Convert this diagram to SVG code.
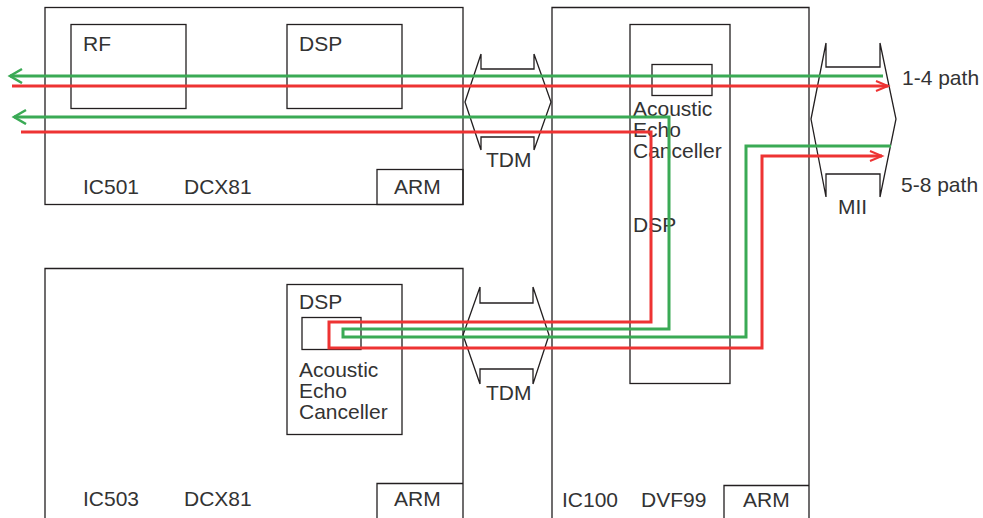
<svg xmlns="http://www.w3.org/2000/svg" width="983" height="518" viewBox="0 0 983 518">
<defs>
<style>
.box{fill:none;stroke:#231f20;stroke-width:1.3}
.lnk{fill:none;stroke:#231f20;stroke-width:1.3}
.t{font-family:"Liberation Sans",Arial,sans-serif;font-size:21px;fill:#333}
.g{fill:none;stroke:#3aaa55;stroke-width:3}
.r{fill:none;stroke:#ee3333;stroke-width:3}
</style>
<marker id="ag" markerUnits="userSpaceOnUse" markerWidth="16" markerHeight="18" refX="13" refY="8" orient="auto">
<path d="M1,1 L13,8 L1,15" fill="none" stroke="#3aaa55" stroke-width="2.5"/>
</marker>
<marker id="ar" markerUnits="userSpaceOnUse" markerWidth="16" markerHeight="14" refX="13" refY="6" orient="auto">
<path d="M1,1 L13,6 L1,11" fill="none" stroke="#ee3333" stroke-width="2"/>
</marker>
</defs>
<rect width="983" height="518" fill="#fff"/>

<g id="ic501">
<rect class="box" x="45" y="7.5" width="418" height="197"/>
<text class="t" x="83" y="194">IC501</text>
<text class="t" x="184" y="194">DCX81</text>
</g>
<g id="rf">
<rect class="box" x="71" y="24.5" width="115" height="84"/>
<text class="t" x="83" y="51">RF</text>
</g>
<g id="dsp501">
<rect class="box" x="287" y="24.5" width="115" height="84"/>
<text class="t" x="299" y="51">DSP</text>
</g>
<g id="arm501">
<rect class="box" x="377" y="169.5" width="86" height="35"/>
<text class="t" x="394" y="194">ARM</text>
</g>

<g id="ic503">
<path class="box" d="M45,518 V268.5 H463 V518"/>
<text class="t" x="83" y="506">IC503</text>
<text class="t" x="184" y="506">DCX81</text>
</g>
<g id="dsp503">
<rect class="box" x="287" y="284.5" width="115" height="150"/>
<text class="t" x="299" y="309">DSP</text>
<text class="t" x="299" y="377">Acoustic</text>
<text class="t" x="299" y="398">Echo</text>
<text class="t" x="299" y="419">Canceller</text>
</g>
<g id="aec503">
<rect class="box" x="302" y="317.5" width="59" height="32"/>
</g>
<g id="arm503">
<path class="box" d="M377,518 V483.5 H463"/>
<text class="t" x="394" y="506">ARM</text>
</g>

<g id="ic100">
<path class="box" d="M552,518 V7.5 H809 V518"/>
<text class="t" x="562" y="507">IC100</text>
<text class="t" x="641" y="507">DVF99</text>
</g>
<g id="dsp100">
<rect class="box" x="630" y="24.5" width="100" height="359"/>
<text class="t" x="633" y="232">DSP</text>
</g>
<g id="aec100">
<rect class="box" x="652" y="64.5" width="60" height="31"/>
<text class="t" x="633" y="116">Acoustic</text>
<text class="t" x="633" y="137">Echo</text>
<text class="t" x="633" y="158">Canceller</text>
</g>
<g id="arm100">
<path class="box" d="M724,518 V485.5 H809"/>
<text class="t" x="743" y="507">ARM</text>
</g>

<g id="tdm1">
<path class="lnk" d="M481,54 L465,102 L481,150 M534,54 L551,102 L534,150 M481,54 V69 H534 V54 M481,150 V137 H534 V150"/>
<text class="t" x="486" y="167">TDM</text>
</g>
<g id="tdm2">
<path class="lnk" d="M480,287 L463,335 L480,384 M533,287 L549,335 L533,384 M480,287 V303 H533 V287 M480,384 V369 H533 V384"/>
<text class="t" x="486" y="400">TDM</text>
</g>
<g id="mii">
<path class="lnk" d="M826,43 L811,119 L826,197 M880,43 L896,119 L880,197 M826,43 V67 H880 V43 M826,197 V174 H880 V197"/>
<text class="t" x="838" y="214">MII</text>
</g>
<g id="labels">
<text class="t" x="902" y="85">1-4 path</text>
<text class="t" x="901" y="192">5-8 path</text>
</g>

<g id="connectors">
<path class="g" d="M883,76 H10" marker-end="url(#ag)"/>
<path class="r" d="M12,86 H888" marker-end="url(#ar)"/>
<path class="g" d="M891,146 H746 V337 H343 V329 H669 V117 H14" marker-end="url(#ag)"/>
<path class="r" d="M21,132 H651 V322 H329 V348 H762 V156 H882" marker-end="url(#ar)"/>
</g>
</svg>
